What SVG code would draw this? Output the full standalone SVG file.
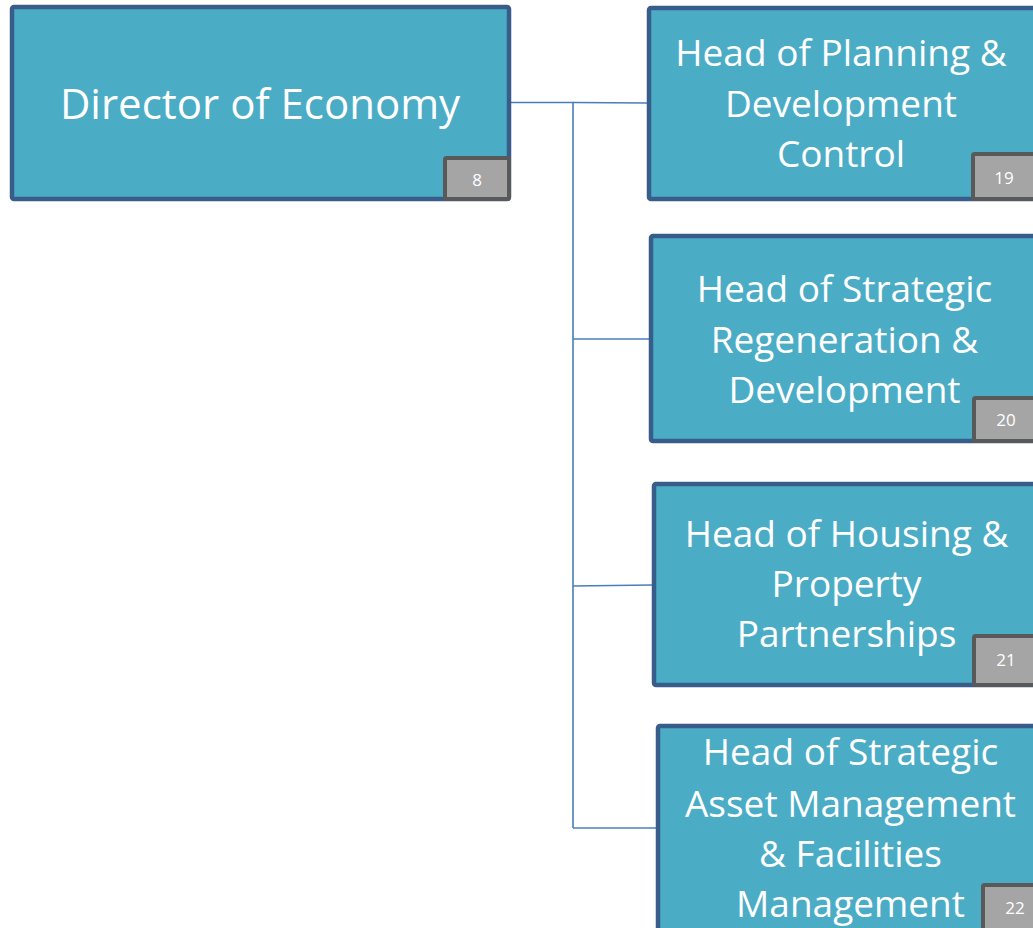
<svg xmlns="http://www.w3.org/2000/svg" width="1033" height="928" viewBox="0 0 1033 928">
<style>
.box{fill:#4bacc6;stroke:#385d8a;stroke-width:4.5}
.badge{fill:#a5a5a5;stroke:#595959;stroke-width:4}
.t{font-family:"Open Sans","Noto Sans",sans-serif;fill:#ffffff;text-anchor:middle}
.big{font-size:42px}
.mid{font-size:37px}
.num{font-size:17px}
.conn{fill:none;stroke:#4a7ebb;stroke-width:1.6}
</style>
<rect width="1033" height="928" fill="#ffffff"/>
<g id="connectors">
<path class="conn" d="M511 102.5 H573 V828"/>
<path class="conn" d="M573 102.5 L647 103"/>
<path class="conn" d="M573 339 H649"/>
<path class="conn" d="M573 586 L652 585"/>
<path class="conn" d="M573 828 H656"/>
</g>
<g id="node-director">
<rect class="box" x="12" y="7" width="497" height="192" rx="2"/>
<text class="t big" x="260" y="119">Director of Economy</text>
<rect class="badge" x="445" y="158" width="64" height="41" rx="1.5"/>
<text class="t num" x="477" y="186">8</text>
</g>
<g id="node-19">
<rect class="box" x="649" y="8" width="387" height="191" rx="2"/>
<text class="t mid"><tspan x="841" y="66">Head of Planning &amp;</tspan><tspan x="841" y="117">Development</tspan><tspan x="841" y="167">Control</tspan></text>
<rect class="badge" x="973" y="154" width="63" height="45" rx="1.5"/>
<text class="t num" x="1004" y="184">19</text>
</g>
<g id="node-20">
<rect class="box" x="651" y="236" width="387" height="205" rx="2"/>
<text class="t mid"><tspan x="844.5" y="302">Head of Strategic</tspan><tspan x="844.5" y="353">Regeneration &amp;</tspan><tspan x="844.5" y="403">Development</tspan></text>
<rect class="badge" x="974" y="398" width="64" height="43" rx="1.5"/>
<text class="t num" x="1006" y="426">20</text>
</g>
<g id="node-21">
<rect class="box" x="654" y="484" width="385" height="201" rx="2"/>
<text class="t mid"><tspan x="846.5" y="547">Head of Housing &amp;</tspan><tspan x="846.5" y="597">Property</tspan><tspan x="846.5" y="647">Partnerships</tspan></text>
<rect class="badge" x="974" y="636" width="65" height="49" rx="1.5"/>
<text class="t num" x="1006" y="666">21</text>
</g>
<g id="node-22">
<rect class="box" x="658" y="726" width="385" height="212" rx="2"/>
<text class="t mid"><tspan x="850.5" y="765">Head of Strategic</tspan><tspan x="850.5" y="817">Asset Management</tspan><tspan x="850.5" y="867">&amp; Facilities</tspan><tspan x="850.5" y="917">Management</tspan></text>
<rect class="badge" x="983" y="885" width="64" height="45" rx="1.5"/>
<text class="t num" x="1015" y="914">22</text>
</g>
</svg>
